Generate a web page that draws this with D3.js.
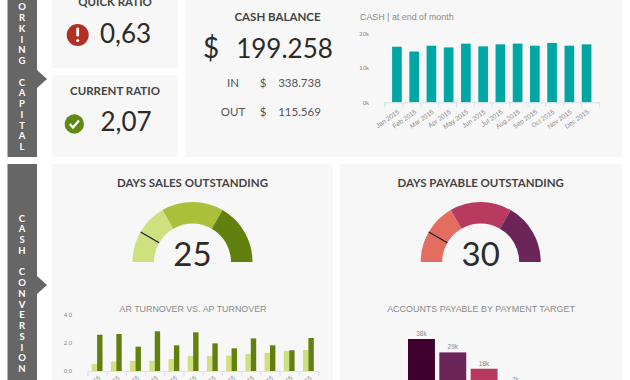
<!DOCTYPE html>
<html>
<head>
<meta charset="utf-8">
<script src="https://cdn.jsdelivr.net/npm/d3@7"></script>
<style>
  html, body { margin: 0; padding: 0; background: #fff; overflow: hidden; }
  text { font-family: Lato, "Noto Sans", sans-serif; }
  .chart-text, .chart-text text { font-family: "Liberation Sans", Arial, sans-serif; }
</style>
</head>
<body>
<div id="dashboard"></div>
<script>
// data
const months = ['Jan 2015', 'Feb 2015', 'Mar 2015', 'Apr 2015', 'May 2015', 'Jun 2015', 'Jul 2015', 'Aug 2015', 'Sep 2015', 'Oct 2015', 'Nov 2015', 'Dec 2015'];
const cashValues = [16.2, 14.8, 16.5, 16.0, 17.1, 16.3, 16.9, 17.1, 16.5, 17.3, 16.5, 16.9];
const cashTicks = [0, 10, 20];
const arTurnover = [0.49, 0.66, 0.71, 0.73, 0.85, 1.06, 1.06, 1.08, 1.20, 1.27, 1.41, 1.48];
const apTurnover = [2.56, 2.61, 1.72, 2.80, 1.81, 2.73, 1.95, 1.60, 2.30, 1.81, 1.46, 2.33];
const turnoverTicks = [0, 2, 4];
const payableTargets = ['a', 'b', 'c', 'd'];
const payableValues = [38, 29, 18, 7];
const dsoBands = [0, 50, 100, 150];
const dsoValue = 25;
const dpoBands = [0, 60, 120, 180];
const dpoValue = 30;

const width = 630;
const height = 380;
const GREENS = ['#cfe07f', '#aabf3a', '#62800e'];
const REDS = ['#e36e60', '#b93a5f', '#6b2558'];
const PAYABLE = ['#3f0030', '#6b2558', '#b93a5f', '#e36e60'];
const INK = '#2b2b2b';
const MUTED = '#8a8a8a';
const AXIS = '#d5e4ee';

const svg = d3.select('#dashboard').append('svg')
  .attr('viewBox', [0, 0, width, height])
  .attr('width', width)
  .attr('height', height);

// cards ////////////////////////////////////////////////////////////////////////
const cards = [
  [52, -10, 126, 78], [52, 75, 126, 82], [185, -10, 437, 167],
  [52, 164, 281, 226], [340, 164, 282, 226]
];
svg.append('g').selectAll('rect').data(cards).join('rect')
  .attr('x', d => d[0]).attr('y', d => d[1])
  .attr('width', d => d[2]).attr('height', d => d[3])
  .attr('fill', '#f7f7f7');

// side tabs ////////////////////////////////////////////////////////////////////
function sideTab(top, bottom, arrowY, label, firstY) {
  svg.append('path')
    .attr('d', d3.line()([[7.5, top], [37, top], [37, arrowY - 9], [47, arrowY], [37, arrowY + 9], [37, bottom], [7.5, bottom]]))
    .attr('fill', '#666');
  svg.append('g').selectAll('text').data(label.split('')).join('text')
    .attr('x', 22)
    .attr('y', (d, i) => firstY + i * 10.75)
    .attr('text-anchor', 'middle')
    .attr('fill', '#fff')
    .attr('font-size', 9.5)
    .attr('font-weight', 700)
    .text(d => d);
}
sideTab(-5, 157, 79, 'WORKING CAPITAL', -0.5);
sideTab(164, 385, 285, 'CASH CONVERSION', 221.5);

function label(x, y, txt, size, opts = {}) {
  return svg.append('text')
    .attr('class', opts.chart ? 'chart-text' : null)
    .attr('x', x).attr('y', y)
    .attr('text-anchor', opts.anchor || 'middle')
    .attr('font-size', size)
    .attr('font-weight', opts.weight || 400)
    .attr('fill', opts.fill || INK)
    .text(txt);
}

// ratios ///////////////////////////////////////////////////////////////////////
label(115, 5.5, 'QUICK RATIO', 11.5, { weight: 700, fill: '#444' });
svg.append('circle').attr('cx', 77.7).attr('cy', 35).attr('r', 11).attr('fill', '#b03024');
svg.append('rect').attr('x', 76.3).attr('y', 27.5).attr('width', 2.8).attr('height', 9).attr('rx', 1.2).attr('fill', '#fff');
svg.append('circle').attr('cx', 77.7).attr('cy', 40.5).attr('r', 1.6).attr('fill', '#fff');
label(125.5, 43, '0,63', 26);

label(115, 94.5, 'CURRENT RATIO', 11.5, { weight: 700, fill: '#444' });
svg.append('circle').attr('cx', 74.3).attr('cy', 124).attr('r', 9.7).attr('fill', '#5f8a10');
svg.append('path')
  .attr('d', d3.line()([[69.8, 124], [73, 127.5], [79, 120.5]]))
  .attr('fill', 'none').attr('stroke', '#fff').attr('stroke-width', 2.2);
label(126, 131, '2,07', 26);

// cash balance /////////////////////////////////////////////////////////////////
label(277.5, 20.5, 'CASH BALANCE', 11.5, { weight: 700, fill: '#444' });
label(211, 58, '$', 28);
label(284.5, 58, '199.258', 26);
label(233, 87, 'IN', 11.5, { fill: '#555' });
label(263, 87, '$', 11.5, { fill: '#555' });
label(299.5, 87, '338.738', 11.5, { fill: '#555' });
label(233, 116, 'OUT', 11.5, { fill: '#555' });
label(263, 116, '$', 11.5, { fill: '#555' });
label(299.5, 116, '115.569', 11.5, { fill: '#555' });

// cash bars ////////////////////////////////////////////////////////////////////
function styleAxis(g) {
  g.selectAll('.domain').attr('stroke', AXIS);
  g.selectAll('.tick line').attr('stroke', AXIS);
}

label(360, 19.5, 'CASH | at end of month', 8.9, { anchor: 'start', fill: MUTED, chart: true });

const xCash = d3.scaleBand().domain(months).range([384.5, 599]).padding(0.44);
const yCash = d3.scaleLinear().domain([0, 20]).range([102.3, 33.7]);

svg.append('g').selectAll('rect').data(cashValues).join('rect')
  .attr('x', (d, i) => xCash(months[i]))
  .attr('y', d => yCash(d))
  .attr('width', xCash.bandwidth())
  .attr('height', d => yCash(0) - yCash(d))
  .attr('fill', '#00a6a4');

const cashXAxis = svg.append('g')
  .attr('transform', `translate(0,${yCash(0)})`)
  .call(d3.axisBottom(d3.scalePoint().domain(d3.range(13)).range([384.5, 599])).tickSize(5).tickFormat(''));
styleAxis(cashXAxis);
svg.append('g').attr('class', 'chart-text').selectAll('text').data(months).join('text')
  .attr('transform', d => `translate(${xCash(d) + xCash.bandwidth() / 2 + 1},${yCash(0) + 8}) rotate(-35)`)
  .attr('text-anchor', 'end')
  .attr('dy', '0.5em')
  .attr('font-size', 6.5)
  .attr('fill', MUTED)
  .text(d => d);
const cashYAxis = svg.append('g')
  .attr('class', 'chart-text')
  .attr('transform', 'translate(372,0)')
  .call(d3.axisLeft(yCash).tickValues(cashTicks).tickSize(0).tickFormat(d => d + 'k'));
cashYAxis.select('.domain').remove();
cashYAxis.attr('font-family', null).selectAll('text').attr('fill', MUTED).attr('font-size', 6);

// gauges ///////////////////////////////////////////////////////////////////////
function gauge(cx, title, bands, value, colors) {
  const cy = 262;
  const angle = d3.scaleLinear()
    .domain([bands[0], bands[bands.length - 1]])
    .range([-Math.PI / 2, Math.PI / 2]);
  const arc = d3.arc().innerRadius(38.5).outerRadius(60);
  const g = svg.append('g').attr('transform', `translate(${cx},${cy})`);
  g.selectAll('path').data(colors).join('path')
    .attr('d', (d, i) => arc({ startAngle: angle(bands[i]), endAngle: angle(bands[i + 1]) }))
    .attr('fill', d => d);
  const a = angle(value);
  g.append('line')
    .attr('x1', Math.sin(a) * 38.5).attr('y1', -Math.cos(a) * 38.5)
    .attr('x2', Math.sin(a) * 60).attr('y2', -Math.cos(a) * 60)
    .attr('stroke', '#1f1f1f').attr('stroke-width', 1.3);
  label(cx, 186.5, title, 11.5, { weight: 700, fill: '#444' });
  label(cx, 266, value, 33);
}
gauge(192.5, 'DAYS SALES OUTSTANDING', dsoBands, dsoValue, GREENS);
gauge(480.7, 'DAYS PAYABLE OUTSTANDING', dpoBands, dpoValue, REDS);

// AR vs AP turnover ////////////////////////////////////////////////////////////
label(193, 312, 'AR TURNOVER VS. AP TURNOVER', 8.9, { fill: MUTED, chart: true });

const xTurn = d3.scaleBand().domain(months).range([87.5, 318]);
const yTurn = d3.scaleLinear().domain([0, 4]).range([371, 314.3]);
const barW = 5.4;

svg.append('g').selectAll('rect').data(arTurnover).join('rect')
  .attr('x', (d, i) => xTurn(months[i]) + xTurn.bandwidth() / 2 - barW)
  .attr('y', d => yTurn(d))
  .attr('width', barW)
  .attr('height', d => yTurn(0) - yTurn(d))
  .attr('fill', GREENS[0]);
svg.append('g').selectAll('rect').data(apTurnover).join('rect')
  .attr('x', (d, i) => xTurn(months[i]) + xTurn.bandwidth() / 2)
  .attr('y', d => yTurn(d))
  .attr('width', barW)
  .attr('height', d => yTurn(0) - yTurn(d))
  .attr('fill', GREENS[2]);

const turnXAxis = svg.append('g')
  .attr('transform', `translate(0,${yTurn(0)})`)
  .call(d3.axisBottom(d3.scalePoint().domain(d3.range(13)).range([87.5, 318])).tickSize(5).tickFormat(''));
styleAxis(turnXAxis);
svg.append('g').attr('class', 'chart-text').selectAll('text').data(months).join('text')
  .attr('transform', d => `translate(${xTurn(d) + xTurn.bandwidth() / 2 + 2},${yTurn(0) + 5.5}) rotate(-35)`)
  .attr('text-anchor', 'end')
  .attr('dy', '0.5em')
  .attr('font-size', 6.5)
  .attr('fill', MUTED)
  .text(d => d);
const turnYAxis = svg.append('g')
  .attr('class', 'chart-text')
  .attr('transform', 'translate(75,0)')
  .call(d3.axisLeft(yTurn).tickValues(turnoverTicks).tickSize(0).tickFormat(d3.format('.1f')));
turnYAxis.select('.domain').remove();
turnYAxis.attr('font-family', null).selectAll('text').attr('fill', MUTED).attr('font-size', 6);

// accounts payable by target ///////////////////////////////////////////////////
label(481, 312, 'ACCOUNTS PAYABLE BY PAYMENT TARGET', 8.95, { fill: MUTED, chart: true });

const xPay = d3.scaleBand().domain(payableTargets).range([405.8, 531.1]).paddingInner(0.14).paddingOuter(0.07);
const yPay = d3.scaleLinear().domain([0, 38]).range([395.5, 339]);

svg.append('g').selectAll('rect').data(payableValues).join('rect')
  .attr('x', (d, i) => xPay(payableTargets[i]))
  .attr('y', d => yPay(d))
  .attr('width', xPay.bandwidth())
  .attr('height', d => yPay(0) - yPay(d))
  .attr('fill', (d, i) => PAYABLE[i]);
svg.append('g').attr('class', 'chart-text').selectAll('text').data(payableValues).join('text')
  .attr('x', (d, i) => xPay(payableTargets[i]) + xPay.bandwidth() / 2)
  .attr('y', d => yPay(d) - 3)
  .attr('text-anchor', 'middle')
  .attr('font-size', 6.5)
  .attr('fill', MUTED)
  .text(d => d + 'k');
</script>
</body>
</html>
